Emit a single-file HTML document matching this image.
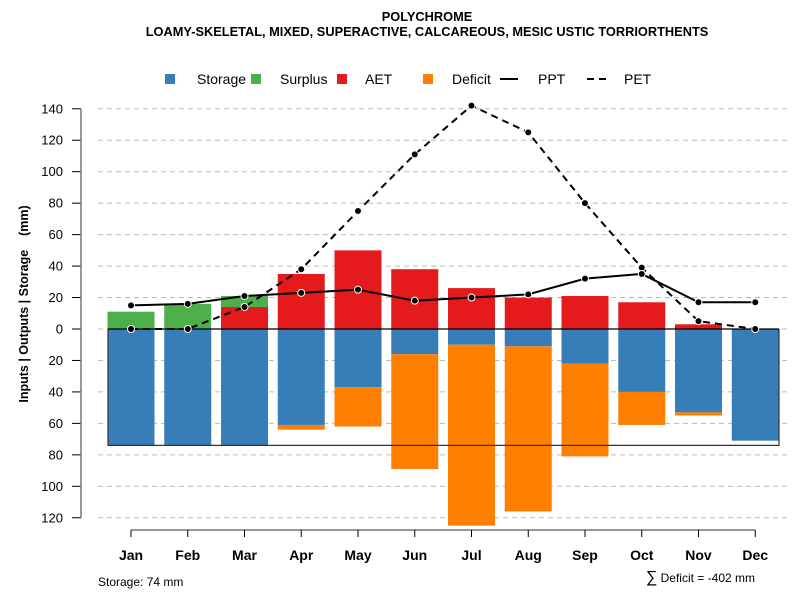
<!DOCTYPE html>
<html><head><meta charset="utf-8"><style>
body{margin:0;background:#fff;font-family:"Liberation Sans",sans-serif}
svg text{font-family:"Liberation Sans",sans-serif}
</style></head><body>
<svg id="chart" width="800" height="600" xmlns="http://www.w3.org/2000/svg">
<text x="427" y="21" font-size="12.8" font-weight="bold" text-anchor="middle">POLYCHROME</text>
<text x="427" y="36" font-size="12.8" font-weight="bold" text-anchor="middle">LOAMY-SKELETAL, MIXED, SUPERACTIVE, CALCAREOUS, MESIC USTIC TORRIORTHENTS</text>
<g id="grid"></g><g id="bars"></g><g id="lines"></g><g id="axes"></g>
<g font-size="14">
<rect x="165" y="74" width="10" height="10" fill="#377eb8"/>
<text x="197" y="84">Storage</text>
<rect x="251" y="74" width="10" height="10" fill="#4daf4a"/>
<text x="280" y="84">Surplus</text>
<rect x="337" y="74" width="10" height="10" fill="#e41a1c"/>
<text x="365" y="84">AET</text>
<rect x="423" y="74" width="10" height="10" fill="#ff7f00"/>
<text x="452" y="84">Deficit</text>
<line x1="500" y1="79" x2="518" y2="79" stroke="#000" stroke-width="2"/>
<text x="538" y="84">PPT</text>
<line x1="587" y1="79" x2="609" y2="79" stroke="#000" stroke-width="2" stroke-dasharray="7,5"/>
<text x="624" y="84">PET</text>
</g>
<text transform="translate(28,304) rotate(-90)" font-size="12.5" font-weight="bold" text-anchor="middle" xml:space="preserve">Inputs | Outputs | Storage    (mm)</text>
<text x="98" y="586" font-size="12">Storage: 74 mm</text>
<text x="755" y="582" font-size="12" text-anchor="end"><tspan font-size="16">∑</tspan> Deficit = -402 mm</text>
</svg>
<script>
const months=["Jan","Feb","Mar","Apr","May","Jun","Jul","Aug","Sep","Oct","Nov","Dec"];
const storage=[74,74,74,61,37,16,10,11,22,40,53,71];
const deficit=[0,0,0,3,25,73,115,105,59,21,2,0];
const aet=[0,0,14,35,50,38,26,20,21,17,3,0];
const surplus=[11,16,7,0,0,0,0,0,0,0,0,0];
const ppt=[15,16,21,23,25,18,20,22,32,35,17,17];
const pet=[0,0,14,38,75,111,142,125,80,39,5,0];
const yTicks=[140,120,100,80,60,40,20,0,20,40,60,80,100,120];
const capacity=74;
const NS="http://www.w3.org/2000/svg";
const x=i=>131+i*56.75;
const y=v=>329-v*1.573;
const bw=47;
function mk(tag,attrs,parent){const e=document.createElementNS(NS,tag);for(const k in attrs)e.setAttribute(k,attrs[k]);document.getElementById(parent).appendChild(e);return e;}
yTicks.forEach((t,i)=>{const v=i<8?t:-t;const yy=y(v);
 const g=mk('line',{x1:98,x2:788,y1:yy,y2:yy,stroke:'#bbb','stroke-dasharray':'5,4'},'grid');
 
 
 const tk=mk('line',{x1:72,x2:81,y1:yy,y2:yy,stroke:'#000'},'axes');
 
 
 const tl=mk('text',{x:63,y:yy+4.5,'font-size':13,'text-anchor':'end'},'axes');tl.textContent=t;
 
 
});
const ya=mk('line',{x1:81,x2:81,y1:y(140),y2:y(-120),stroke:'#777','stroke-width':1.5},'axes');


const xa=mk('line',{x1:x(0),x2:x(11),y1:530,y2:530,stroke:'#777','stroke-width':1.5},'axes');


function bar(i,v0,v1,fill,name){if(v1===v0)return;const a=y(Math.max(v0,v1)),b=y(Math.min(v0,v1));
 const r=mk('rect',{x:x(i)-bw/2,y:a,width:bw,height:b-a,fill:fill},'bars');
 
 }
months.forEach((m,i)=>{
 bar(i,0,-storage[i],'#377eb8','bar-storage-'+m.toLowerCase());
 bar(i,-storage[i],-storage[i]-deficit[i],'#ff7f00','bar-deficit-'+m.toLowerCase());
 bar(i,0,aet[i],'#e41a1c','bar-aet-'+m.toLowerCase());
 bar(i,aet[i],aet[i]+surplus[i],'#4daf4a','bar-surplus-'+m.toLowerCase());
 const tk=mk('line',{x1:x(i),x2:x(i),y1:530,y2:537,stroke:'#000'},'axes');
 
 
 const tl=mk('text',{x:x(i),y:560,'font-size':14,'font-weight':'bold','text-anchor':'middle'},'axes');tl.textContent=m;
 
 
});
const cap=mk('path',{d:`M108,${y(0)} V${y(-capacity)} H779 V${y(0)}`,fill:'none',stroke:'#333','stroke-width':1.2},'lines');


const zl=mk('line',{x1:108,x2:779,y1:y(0),y2:y(0),stroke:'#000','stroke-width':1.2},'lines');


function series(arr,dash,name){
 const p=mk('polyline',{points:arr.map((v,i)=>x(i)+','+y(v)).join(' '),fill:'none',stroke:'#000','stroke-width':2,'stroke-dasharray':dash},'lines');
 
 
 arr.forEach((v,i)=>{const c=mk('circle',{cx:x(i),cy:y(v),r:3.5,fill:'#000',stroke:'#fff','stroke-width':1},'lines');
  
  });
}
series(pet,'7,5','pet');
series(ppt,'none','ppt');
</script>
</body></html>
